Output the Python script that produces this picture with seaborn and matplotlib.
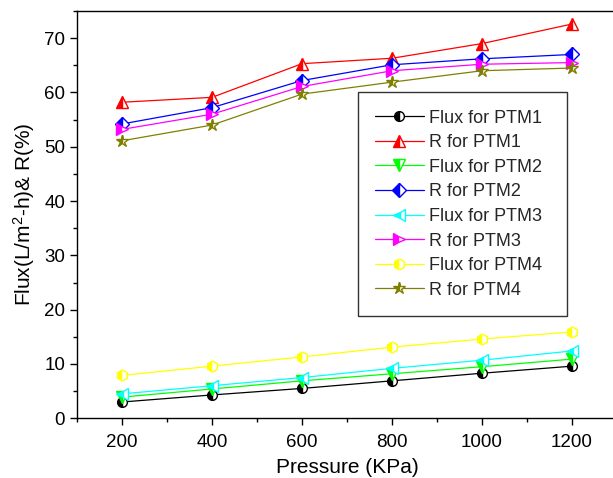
import matplotlib
matplotlib.use("Agg")
import matplotlib.pyplot as plt
import seaborn as sns
import pandas as pd
from matplotlib.ticker import MultipleLocator

pressure = [200, 400, 600, 800, 1000, 1200]

flux_ptm1 = [3.0, 4.3, 5.5, 6.9, 8.3, 9.6]
r_ptm1 = [58.2, 59.1, 65.3, 66.3, 69.0, 72.6]
flux_ptm2 = [3.9, 5.4, 6.9, 8.2, 9.5, 10.9]
r_ptm2 = [54.2, 57.2, 62.2, 65.1, 66.2, 67.0]
flux_ptm3 = [4.5, 6.0, 7.5, 9.2, 10.7, 12.4]
r_ptm3 = [53.2, 56.0, 61.1, 64.0, 65.2, 65.5]
flux_ptm4 = [7.9, 9.6, 11.3, 13.1, 14.6, 15.9]
r_ptm4 = [51.1, 54.0, 59.7, 61.9, 64.0, 64.5]

labels = ["Flux for PTM1", "R for PTM1", "Flux for PTM2", "R for PTM2",
          "Flux for PTM3", "R for PTM3", "Flux for PTM4", "R for PTM4"]
series = [flux_ptm1, r_ptm1, flux_ptm2, r_ptm2,
          flux_ptm3, r_ptm3, flux_ptm4, r_ptm4]
colors = ["#000000", "#FF0000", "#00FF00", "#0000FF",
          "#00FFFF", "#FF00FF", "#FFFF00", "#808000"]
markers = ["o", "^", "v", "D", "<", ">", "h", "*"]
sizes = [7, 8, 8, 7, 8, 8, 8, 9]

sns.set_theme(style="ticks")
plt.rcParams["font.family"] = ["Liberation Sans", "DejaVu Sans"]
plt.rcParams["mathtext.fontset"] = "custom"
plt.rcParams["mathtext.rm"] = "Liberation Sans"
plt.rcParams["mathtext.it"] = "Liberation Sans"

fig = plt.figure(figsize=(6.13, 4.78), dpi=100)
ax = fig.add_axes([77 / 613, (478 - 418.3) / 478, 540 / 613, 407.3 / 478])

for lab, vals, col, mk, ms in zip(labels, series, colors, markers, sizes):
    df = pd.DataFrame({"Pressure": pressure, "Value": vals})
    sns.lineplot(data=df, x="Pressure", y="Value", ax=ax, color=col,
                 marker=mk, markersize=ms, fillstyle="left",
                 markerfacecoloralt="white", markeredgecolor=col,
                 markeredgewidth=1.0, linewidth=0.9, label=lab)

ax.set_xlim(100, 1300)
ax.set_ylim(0, 75)
ax.xaxis.set_major_locator(MultipleLocator(200))
ax.xaxis.set_minor_locator(MultipleLocator(100))
ax.yaxis.set_major_locator(MultipleLocator(10))
ax.yaxis.set_minor_locator(MultipleLocator(5))
ax.tick_params(axis="both", which="major", direction="out", length=5,
               width=1.0, labelsize=13.5, color="black", labelcolor="black")
ax.tick_params(axis="x", which="major", pad=6.5)
ax.tick_params(axis="both", which="minor", direction="out", length=2.7,
               width=1.0, color="black")
for sp in ax.spines.values():
    sp.set_color("black")
    sp.set_linewidth(1.0)

ax.set_xlabel("Pressure (KPa)", fontsize=15, color="black", labelpad=5)
ax.set_ylabel(r"Flux(L/m$^{2}$-h)& R(%)", fontsize=15, color="black", labelpad=5)

leg = ax.legend(loc="upper left", bbox_to_anchor=(0.52, 0.256, 0.387, 0.544),
                mode="expand", fontsize=13,
                frameon=True, fancybox=False, edgecolor="black",
                handlelength=2.7, handletextpad=0.3, labelspacing=0.42,
                borderpad=0.95, borderaxespad=0.0)
leg.get_frame().set_linewidth(1.0)

fig.savefig("out.png", dpi=100)
